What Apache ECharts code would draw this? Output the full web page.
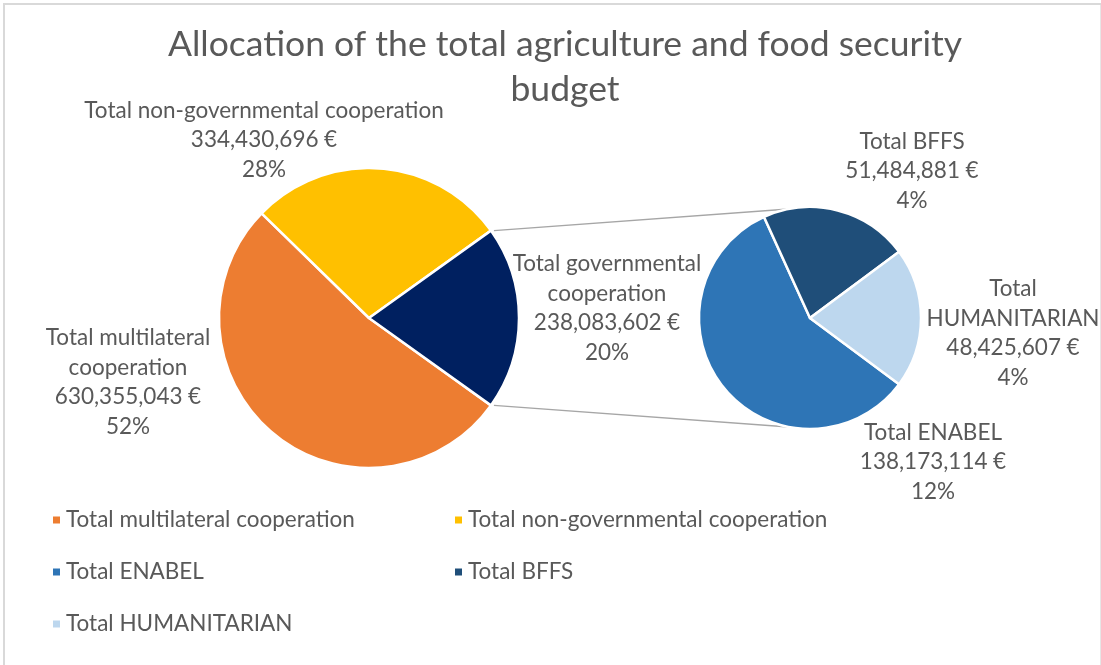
<!DOCTYPE html>
<html>
<head>
<meta charset="utf-8">
<title>Allocation of the total agriculture and food security budget</title>
<script src="https://cdn.jsdelivr.net/npm/echarts@6/dist/echarts.min.js"></script>
<style>
  html, body { margin: 0; padding: 0; background: #ffffff; }
  #chart { width: 1101px; height: 665px; }
</style>
</head>
<body>
<div id="chart"></div>
<script>
// ---- Data -----------------------------------------------------------------
const titleText = 'Allocation of the total agriculture and food security\nbudget';

// Main pie (overall allocation)
const mainNames = ['Total multilateral cooperation', 'Total non-governmental cooperation', 'Total governmental cooperation'];
const mainValues = [630355043, 334430696, 238083602];

// Secondary pie (breakdown of governmental cooperation)
const subNames = ['Total ENABEL', 'Total BFFS', 'Total HUMANITARIAN'];
const subValues = [138173114, 51484881, 48425607];

// Legend rows (left column, right column)
const legendLeft = ['Total multilateral cooperation', 'Total ENABEL', 'Total HUMANITARIAN'];
const legendRight = ['Total non-governmental cooperation', 'Total BFFS'];

// ---- Styling / layout -----------------------------------------------------
const FONT = 'Lato, "Open Sans", sans-serif';
const TEXT_COLOR = '#595959';
const mainColors = ['#ED7D31', '#FFC000', '#002060'];
const subColors = ['#2E75B6', '#1F4E79', '#BDD7EE'];

const mainPie = { cx: 369, cy: 318, r: 150 };
const subPie = { cx: 810, cy: 318, r: 111 };

// Label anchor (centre of text block) and number of words on first line
const mainLabelSpec = [
  { x: 128, y: 382, wrap: 2 },
  { x: 264, y: 140, wrap: 0 },
  { x: 607, y: 308, wrap: 2 }
];
const subLabelSpec = [
  { x: 933, y: 462, wrap: 0 },
  { x: 912, y: 171, wrap: 0 },
  { x: 1013, y: 333, wrap: 1 }
];

// ---- Helpers --------------------------------------------------------------
const sum = a => a.reduce((s, v) => s + v, 0);
const grandTotal = sum(mainValues);

// Largest-remainder rounding so percentages add up to a given target
function roundToTarget(values, total, target) {
  const raw = values.map(v => v / total * 100);
  const fl = raw.map(Math.floor);
  let left = target - sum(fl);
  const order = raw.map((v, i) => [v - Math.floor(v), i]).sort((a, b) => b[0] - a[0]);
  for (let k = 0; k < order.length && left > 0; k++, left--) fl[order[k][1]] += 1;
  return fl;
}
const mainPct = roundToTarget(mainValues, grandTotal, 100);
const subPct = roundToTarget(subValues, grandTotal, mainPct[2]);

function wrapName(name, n) {
  if (!n) return name;
  const w = name.split(' ');
  return w.slice(0, n).join(' ') + '\n' + w.slice(n).join(' ');
}
const fmtEuro = v => v.toLocaleString('en-US') + '\u202F€';

function buildData(names, values, colors, pct, spec) {
  return names.map((n, i) => ({
    name: n,
    value: values[i],
    itemStyle: { color: colors[i] },
    labelText: wrapName(n, spec[i].wrap) + '\n' + fmtEuro(values[i]) + '\n' + pct[i] + '%'
  }));
}
const mainData = buildData(mainNames, mainValues, mainColors, mainPct, mainLabelSpec);
const subData = buildData(subNames, subValues, subColors, subPct, subLabelSpec);

// Gov slice is centred on the right-hand side; HUMANITARIAN likewise on the sub pie
const govAngle = mainValues[2] / grandTotal * 360;
const humAngle = subValues[2] / sum(subValues) * 360;

// Connector lines from the edges of the governmental slice to the sub pie
const edgeA = govAngle / 2 * Math.PI / 180;
const subEdge = 101 * Math.PI / 180;
const connectors = [1, -1].map(s => ({
  type: 'line',
  silent: true,
  shape: {
    x1: mainPie.cx + mainPie.r * Math.cos(edgeA) + 3,
    y1: mainPie.cy - s * mainPie.r * Math.sin(edgeA),
    x2: subPie.cx + subPie.r * Math.cos(subEdge),
    y2: subPie.cy - s * subPie.r * Math.sin(subEdge)
  },
  style: { stroke: '#A6A6A6', lineWidth: 1.5 },
  z: 1
}));

const labelFont = { fontFamily: FONT, fontSize: 22.5, color: TEXT_COLOR, lineHeight: 29.5 };

function pieSeries(data, geo, startAngle, spec) {
  return {
    type: 'pie',
    center: [geo.cx, geo.cy],
    radius: geo.r,
    startAngle: startAngle,
    clockwise: true,
    animation: false,
    data: data,
    itemStyle: { borderColor: '#ffffff', borderWidth: 2.5 },
    label: Object.assign({
      show: true,
      position: 'outside',
      align: 'center',
      overflow: 'none',
      edgeDistance: 0,
      formatter: p => p.data.labelText
    }, labelFont),
    labelLine: { show: false },
    labelLayout: p => ({
      x: spec[p.dataIndex].x,
      y: spec[p.dataIndex].y,
      align: 'center',
      verticalAlign: 'middle'
    }),
    emphasis: { disabled: true },
    z: 2
  };
}

const legendBase = {
  orient: 'vertical',
  top: 503,
  icon: 'rect',
  itemWidth: 9,
  itemHeight: 9,
  itemGap: 28,
  selectedMode: false,
  textStyle: { fontFamily: FONT, fontSize: 22.5, color: TEXT_COLOR, lineHeight: 24, padding: [0, 0, 0, 0] }
};

const chart = echarts.init(document.getElementById('chart'), null, { renderer: 'canvas' });
chart.setOption({
  backgroundColor: '#ffffff',
  animation: false,
  title: {
    text: titleText,
    left: 560,
    textAlign: 'center',
    top: 17,
    textStyle: { fontFamily: FONT, fontSize: 35.5, fontWeight: 'normal', color: TEXT_COLOR, lineHeight: 45 }
  },
  legend: [
    Object.assign({ left: 46, data: legendLeft }, legendBase),
    Object.assign({ left: 448, data: legendRight }, legendBase)
  ],
  series: [
    pieSeries(mainData, mainPie, -govAngle / 2, mainLabelSpec),
    pieSeries(subData, subPie, -humAngle / 2, subLabelSpec)
  ],
  graphic: connectors.concat([
    { type: 'line', silent: true, shape: { x1: 3, y1: 4, x2: 1101, y2: 4 }, style: { stroke: '#D9D9D9', lineWidth: 2 } },
    { type: 'line', silent: true, shape: { x1: 4, y1: 3, x2: 4, y2: 665 }, style: { stroke: '#D9D9D9', lineWidth: 2 } },
    { type: 'line', silent: true, shape: { x1: 1100.5, y1: 5, x2: 1100.5, y2: 665 }, style: { stroke: '#E6E6E6', lineWidth: 1 } }
  ])
});
</script>
</body>
</html>
